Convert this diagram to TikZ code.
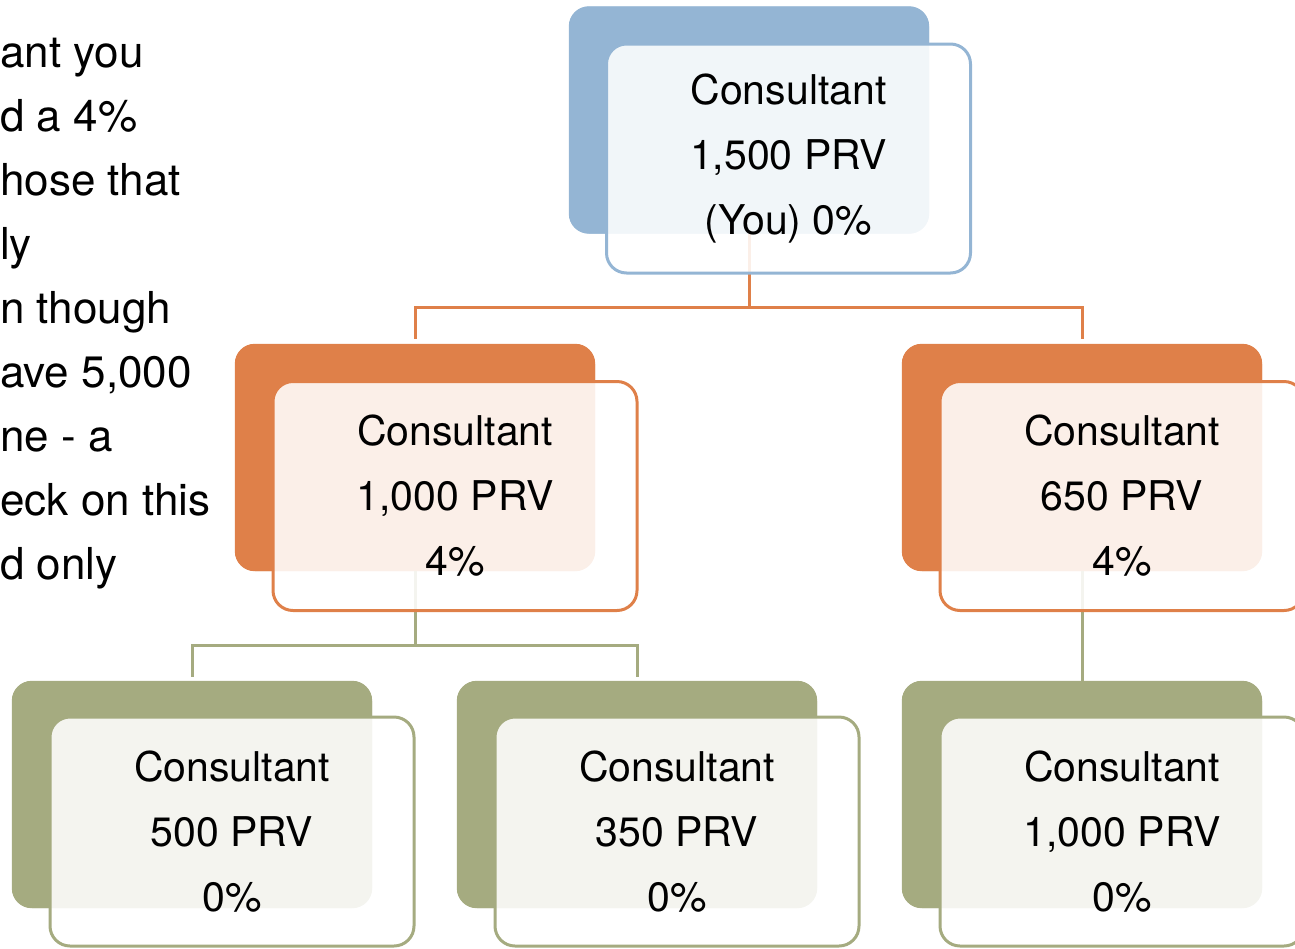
\documentclass[tikz,border=0pt]{standalone}
\usepackage{fontspec}
\setmainfont{TeX Gyre Heros}
\usetikzlibrary{calc}
\definecolor{cblue}{HTML}{94B5D4}
\definecolor{corange}{HTML}{DF8049}
\definecolor{cgreen}{HTML}{A5AB80}
\tikzset{
  backbox/.style={rectangle, rounded corners=20pt, minimum width=360pt, minimum height=227pt, inner sep=0pt, fill=#1},
  frontbox/.style={rectangle, rounded corners=20pt, minimum width=364pt, minimum height=229pt, inner sep=0pt,
    draw=#1, line width=3pt, fill=white, fill opacity=0.88, text opacity=1,
    align=center, font=\fontsize{41pt}{65pt}\selectfont},
  conn/.style={draw=#1, line width=3pt},
  sidetext/.style={anchor=base west, inner sep=0pt, font=\fontsize{44pt}{64pt}\selectfont}
}
\begin{document}
\begin{tikzpicture}[x=1pt,y=-1pt]
\useasboundingbox (0,0) rectangle (1295,948);
% left text
\foreach \t [count=\i] in {ant you, d a 4\%, hose that, ly, n though, ave 5{,}000, ne - a, eck on this, d only}{
  \node[sidetext] (side\i) at (0,{67+64*(\i-1)}) {\t};
}
% junction coordinates
\coordinate (j1) at (749,307);
\coordinate (j2) at (415,645);
% back boxes
\path (749,120) node[backbox=cblue] (tb) {};
\path (415,457.5) node[backbox=corange] (mlb) {};
\path (1082,457.5) node[backbox=corange] (mrb) {};
\path (192,794.5) node[backbox=cgreen] (blb) {};
\path (637,794.5) node[backbox=cgreen] (bmb) {};
\path (1082,794.5) node[backbox=cgreen] (brb) {};
% connectors
\draw[conn=corange] (tb.south) -- (j1);
\draw[conn=corange] (j1) -| ([yshift=5pt]mlb.north);
\draw[conn=corange] (j1) -| ([yshift=5pt]mrb.north);
\draw[conn=cgreen] (mlb.south) -- (j2);
\draw[conn=cgreen] (j2) -| ([yshift=4pt]blb.north);
\draw[conn=cgreen] (j2) -| ([yshift=4pt]bmb.north);
\draw[conn=cgreen] (mrb.south) -- (brb.north);
% redraw back boxes over connector ends
\fill[cblue, rounded corners=20pt] (tb.south west) rectangle (tb.north east);
\fill[corange, rounded corners=20pt] (mlb.south west) rectangle (mlb.north east);
\fill[corange, rounded corners=20pt] (mrb.south west) rectangle (mrb.north east);
\fill[cgreen, rounded corners=20pt] (blb.south west) rectangle (blb.north east);
\fill[cgreen, rounded corners=20pt] (bmb.south west) rectangle (bmb.north east);
\fill[cgreen, rounded corners=20pt] (brb.south west) rectangle (brb.north east);
% front boxes
\node[frontbox=cblue] (tf) at (788.5,158.5) {Consultant\\1,500 PRV\\(You) 0\%};
\node[frontbox=corange] (mlf) at (455,496) {Consultant\\1,000 PRV\\4\%};
\node[frontbox=corange] (mrf) at (1122,496) {Consultant\\650 PRV\\4\%};
\node[frontbox=cgreen] (blf) at (232,831.5) {Consultant\\500 PRV\\0\%};
\node[frontbox=cgreen] (bmf) at (677,831.5) {Consultant\\350 PRV\\0\%};
\node[frontbox=cgreen] (brf) at (1122,831.5) {Consultant\\1,000 PRV\\0\%};
\end{tikzpicture}
\end{document}
